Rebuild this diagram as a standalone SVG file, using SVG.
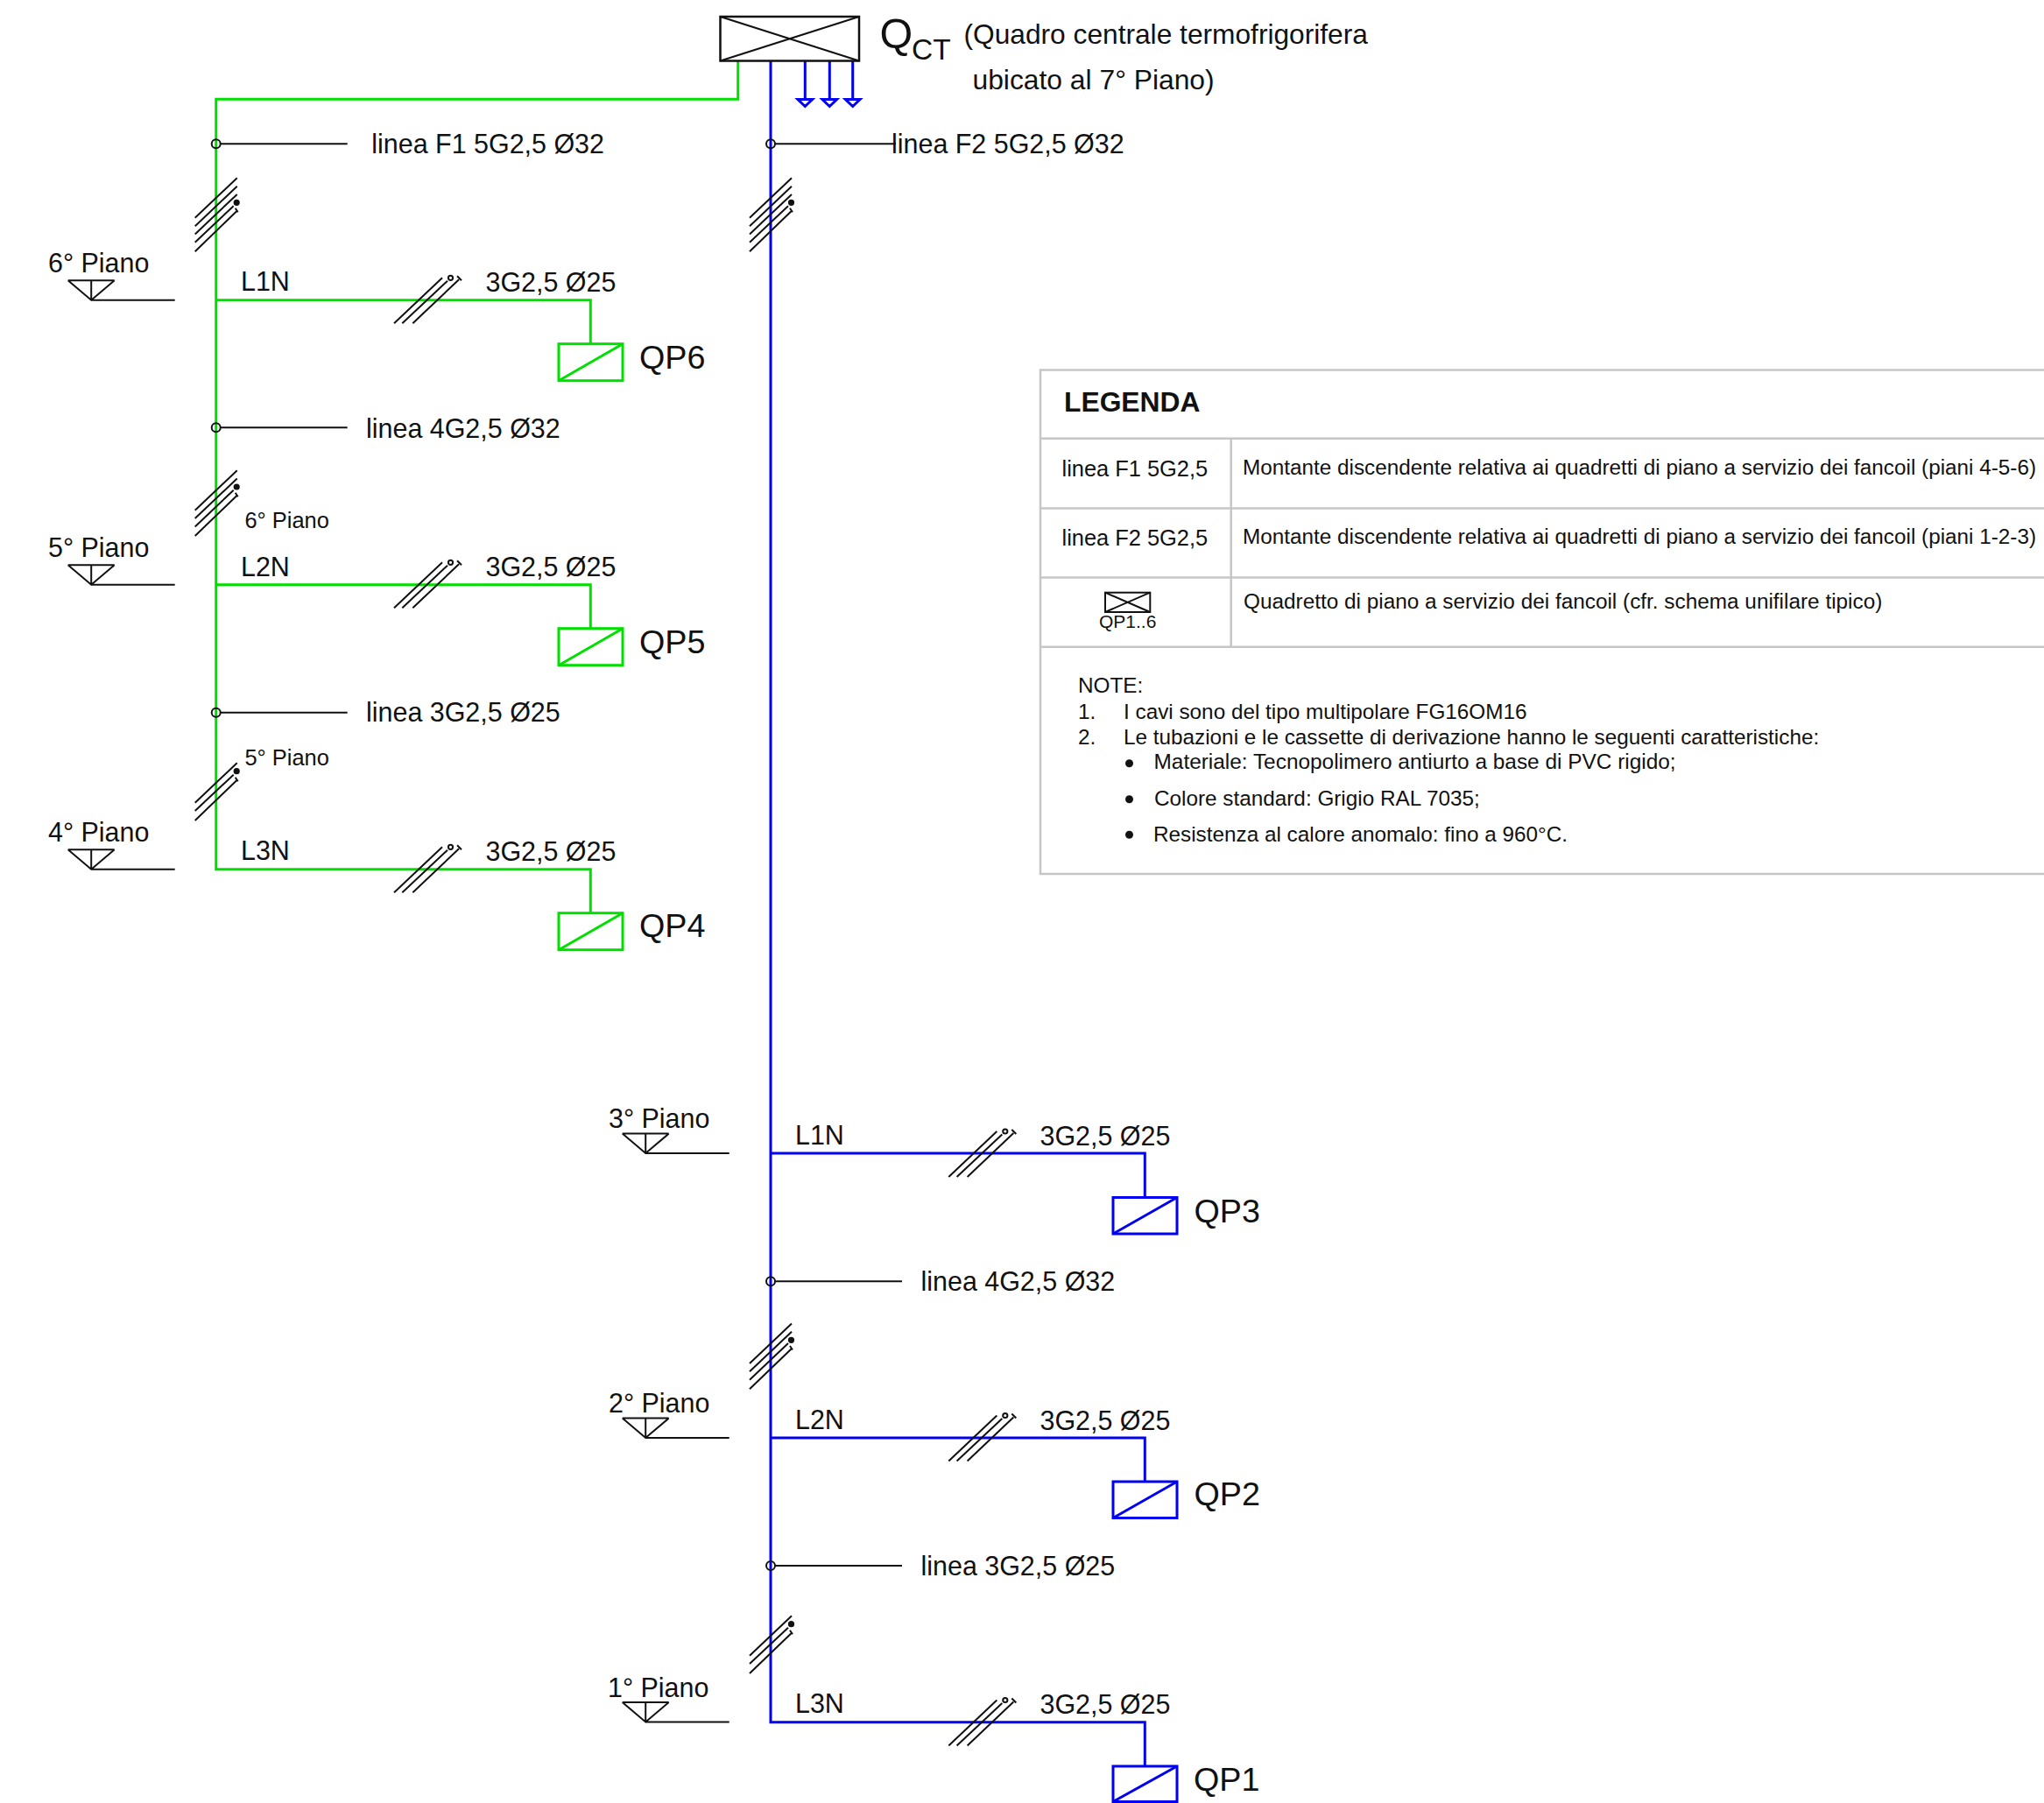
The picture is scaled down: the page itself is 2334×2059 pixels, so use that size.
<svg xmlns="http://www.w3.org/2000/svg" xmlns:xlink="http://www.w3.org/1999/xlink" width="2334" height="2059" viewBox="0 0 2334 2059">
<style>
text{font-family:"Liberation Sans",Arial,sans-serif;fill:#111}
.g{stroke:#00e000;stroke-width:3;fill:none}
.b{stroke:#0000f5;stroke-width:3;fill:none}
.k{stroke:#111;stroke-width:2;fill:none}
.h{stroke:#111;stroke-width:2;fill:none}
.lg{stroke:#c6c6c6;stroke-width:2.5;fill:none}
.t30{font-size:30.45px}.t25{font-size:25.4px}.t24{font-size:24.3px}.t37{font-size:37.7px}.tm{font-size:24.35px}
</style>
<defs>
<g id="hash5" class="h"><path d="M0 0L48 -45.5M0 9.6L48 -35.9M0 18.7L48 -26.8M0 28L44 -13.5M0 38.6L47.5 -7.5M46 -11L49 -6.5"/><circle cx="47.5" cy="-17.4" r="2.6" fill="#111"/></g>
<g id="hash4" class="h"><path d="M0 0L48 -45.5M0 9.3L48 -36.2M0 18.7L44 -23M0 29.3L47.5 -16.5M46 -20L49 -15.5"/><circle cx="47.5" cy="-26.7" r="2.6" fill="#111"/></g>
<g id="hash3" class="h"><path d="M0 0L48 -45.5M0 9.3L44 -32M0 20.3L47.5 -25.5M46 -29L49 -24.5"/><circle cx="47.5" cy="-36" r="2.6" fill="#111"/></g>
<g id="hashR" class="h"><path d="M0 0L55 -52M9.3 0L61 -48.5M21.3 0L74 -50M72 -54L77 -49"/><circle cx="64.5" cy="-52" r="2.6"/></g>
<g id="level" class="k"><path d="M0 0H53M26.5 0V22.4M0 0L26.5 22.4L53 0M26.5 22.4H122"/></g>
</defs>
<g id="connectors">
<path class="g" d="M842.7 69.5V113.3H246.7V992.7H674.3V1042.3"/>
<path class="g" d="M246.7 342.7H674.3V392.3"/>
<path class="g" d="M246.7 667.7H674.3V717.3"/>
<path class="b" d="M880 69.5V1966.7H1307.3V2017"/>
<path class="b" d="M880 1317H1307.3V1367.3"/>
<path class="b" d="M880 1642H1307.3V1692"/>
<path class="b" d="M919.3 69.5V113M947.3 69.5V113M973.7 69.5V113"/>
<path class="b" d="M911 113.5H927.6L919.3 121.5ZM939 113.5H955.6L947.3 121.5ZM965.4 113.5H982L973.7 121.5Z"/>
<path class="k" d="M252 164.3H396.7M252 488.3H396.7M252 813.7H396.7M885 164.3H1023M885 1463.3H1030M885 1788H1030"/>
<g fill="none" stroke="#111" stroke-width="2"><circle cx="246.7" cy="164.3" r="5"/><circle cx="246.7" cy="488.3" r="5"/><circle cx="246.7" cy="813.7" r="5"/><circle cx="880" cy="164.3" r="5"/><circle cx="880" cy="1463.3" r="5"/><circle cx="880" cy="1788" r="5"/></g>
<use href="#hash5" x="222.7" y="248.7"/>
<use href="#hash4" x="222.7" y="582.7"/>
<use href="#hash3" x="222.7" y="916.7"/>
<use href="#hash5" x="856" y="248.7"/>
<use href="#hash4" x="856" y="1557"/>
<use href="#hash3" x="856" y="1890.7"/>
<use href="#hashR" x="450" y="369.3"/>
<use href="#hashR" x="450" y="694.3"/>
<use href="#hashR" x="450" y="1019.3"/>
<use href="#hashR" x="1083.3" y="1344"/>
<use href="#hashR" x="1083.3" y="1668.5"/>
<use href="#hashR" x="1083.3" y="1993.5"/>
</g>
<g id="qct">
<rect x="822.5" y="19" width="158.5" height="50.5" fill="none" stroke="#111" stroke-width="2.5"/>
<path class="k" d="M822.5 19L981 69.5M822.5 69.5L981 19"/>
<text x="1004.5" y="55" style="font-size:48.5px">Q</text>
<text x="1041" y="68" style="font-size:33.5px">CT</text>
<text x="1100.5" y="50" style="font-size:31.7px">(Quadro centrale termofrigorifera</text>
<text x="1110.5" y="102" style="font-size:31.8px">ubicato al 7° Piano)</text>
</g>
<g id="line-labels">
<text x="424.3" y="175" class="t30">linea F1 5G2,5 Ø32</text>
<text x="1018" y="175" class="t30">linea F2 5G2,5 Ø32</text>
<text x="418" y="499.5" class="t30">linea 4G2,5 Ø32</text>
<text x="418" y="824.3" class="t30">linea 3G2,5 Ø25</text>
<text x="1051.5" y="1474" class="t30">linea 4G2,5 Ø32</text>
<text x="1051.5" y="1798.7" class="t30">linea 3G2,5 Ø25</text>
<text x="279.5" y="602.7" class="t25">6° Piano</text>
<text x="279.5" y="874" class="t25">5° Piano</text>
</g>
<g id="level-6"><use href="#level" x="77.7" y="320.3"/><text x="55" y="310.7" class="t30">6° Piano</text></g>
<g id="level-5"><use href="#level" x="77.7" y="645.3"/><text x="55" y="635.7" class="t30">5° Piano</text></g>
<g id="level-4"><use href="#level" x="77.7" y="970.3"/><text x="55" y="960.7" class="t30">4° Piano</text></g>
<g id="level-3"><use href="#level" x="710.7" y="1294.6"/><text x="695" y="1288" class="t30">3° Piano</text></g>
<g id="level-2"><use href="#level" x="710.7" y="1619.6"/><text x="695" y="1613" class="t30">2° Piano</text></g>
<g id="level-1"><use href="#level" x="710.7" y="1944"/><text x="694" y="1938" class="t30">1° Piano</text></g>
<g id="qp6"><rect class="g" x="638" y="392.7" width="73" height="42"/><path class="g" d="M638 434.7L711 392.7"/><text x="275" y="332.2" class="t30">L1N</text><text x="554.5" y="333" class="t30">3G2,5 Ø25</text><text x="730" y="420.5" class="t37">QP6</text></g>
<g id="qp5"><rect class="g" x="638" y="717.7" width="73" height="42"/><path class="g" d="M638 759.7L711 717.7"/><text x="275" y="657.5" class="t30">L2N</text><text x="554.5" y="658" class="t30">3G2,5 Ø25</text><text x="730" y="745.5" class="t37">QP5</text></g>
<g id="qp4"><rect class="g" x="638" y="1042.7" width="73" height="42"/><path class="g" d="M638 1084.7L711 1042.7"/><text x="275" y="982" class="t30">L3N</text><text x="554.5" y="983" class="t30">3G2,5 Ø25</text><text x="730" y="1070" class="t37">QP4</text></g>
<g id="qp3"><rect class="b" x="1271" y="1367.5" width="73" height="41.5"/><path class="b" d="M1271 1409L1344 1367.5"/><text x="908" y="1307" class="t30">L1N</text><text x="1187.5" y="1308" class="t30">3G2,5 Ø25</text><text x="1363.5" y="1395.5" class="t37">QP3</text></g>
<g id="qp2"><rect class="b" x="1271" y="1692" width="73" height="41.5"/><path class="b" d="M1271 1733.5L1344 1692"/><text x="908" y="1632" class="t30">L2N</text><text x="1187.5" y="1633" class="t30">3G2,5 Ø25</text><text x="1363.5" y="1719" class="t37">QP2</text></g>
<g id="qp1"><rect class="b" x="1271" y="2017" width="73" height="40.5"/><path class="b" d="M1271 2057.5L1344 2017"/><text x="908" y="1956" class="t30">L3N</text><text x="1187.5" y="1957" class="t30">3G2,5 Ø25</text><text x="1363" y="2044.5" class="t37">QP1</text></g>
<g id="legenda">
<path class="lg" d="M2334 422.5H1188V998H2334M1188 500.7H2334M1188 580.5H2334M1188 659.5H2334M1188 738.7H2334M1405.7 500.7V738.7"/>
<text x="1215" y="470" style="font-size:31.8px;font-weight:bold">LEGENDA</text>
<text x="1212.5" y="544.3" class="t25">linea F1 5G2,5</text>
<text x="1212.5" y="623.3" class="t25">linea F2 5G2,5</text>
<text x="1419" y="541.7" class="tm" textLength="906" lengthAdjust="spacingAndGlyphs">Montante discendente relativa ai quadretti di piano a servizio dei fancoil (piani 4-5-6)</text>
<text x="1419" y="620.7" class="tm" textLength="906" lengthAdjust="spacingAndGlyphs">Montante discendente relativa ai quadretti di piano a servizio dei fancoil (piani 1-2-3)</text>
<text x="1420" y="695" class="tm">Quadretto di piano a servizio dei fancoil (cfr. schema unifilare tipico)</text>
<rect class="k" x="1262" y="676.7" width="51.3" height="22.3"/>
<path class="k" d="M1262 676.7L1313.3 699M1262 699L1313.3 676.7"/>
<text x="1255" y="717.3" style="font-size:21px">QP1..6</text>
<text x="1231" y="790.7" class="t24">NOTE:</text>
<text x="1231" y="821" class="t24">1.</text>
<text x="1283" y="821" class="t24">I cavi sono del tipo multipolare FG16OM16</text>
<text x="1231" y="850" class="t24">2.</text>
<text x="1283" y="850" class="t24">Le tubazioni e le cassette di derivazione hanno le seguenti caratteristiche:</text>
<circle cx="1289.5" cy="871.7" r="4.5" fill="#111"/>
<text x="1317.5" y="878" style="font-size:24.4px">Materiale: Tecnopolimero antiurto a base di PVC rigido;</text>
<circle cx="1289.5" cy="912.7" r="4.5" fill="#111"/>
<text x="1318" y="920" class="t24">Colore standard: Grigio RAL 7035;</text>
<circle cx="1289.5" cy="953.3" r="4.5" fill="#111"/>
<text x="1317" y="961" class="t24">Resistenza al calore anomalo: fino a 960°C.</text>
</g>
</svg>
